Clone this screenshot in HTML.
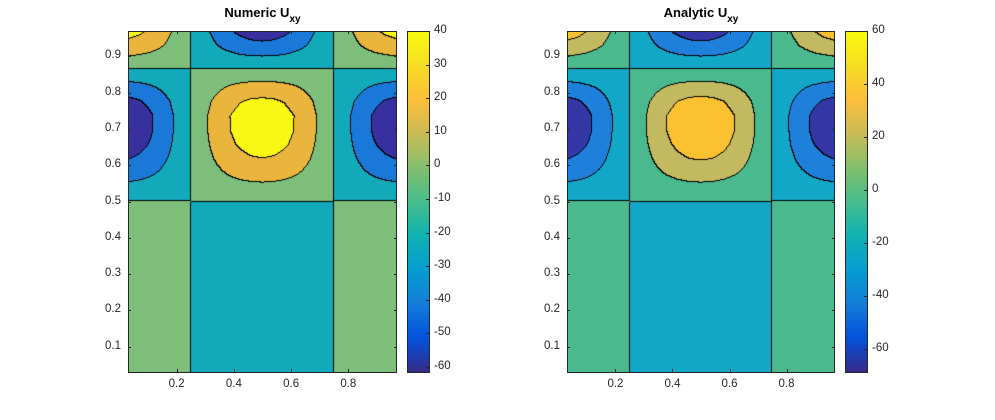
<!DOCTYPE html>
<html><head><meta charset="utf-8">
<style>
body{margin:0;background:#fff;width:995px;height:420px;overflow:hidden;font-family:"Liberation Sans",sans-serif;}
#root{position:relative;width:995px;height:420px;}
canvas{position:absolute;}
.t{position:absolute;font-size:11.5px;color:#262626;white-space:nowrap;}
.title{position:absolute;font-size:13px;font-weight:bold;color:#000;white-space:nowrap;transform:translateX(-50%);}
.title sub{font-size:10px;vertical-align:-5px;}
.box{position:absolute;border:1px solid #262626;box-sizing:border-box;pointer-events:none;}
.tk{position:absolute;background:#262626;}
</style></head><body>
<div id="root"></div>
<script>
// ---- data ----
const xTicks=[0.2,0.4,0.6,0.8];
const yTicks=[0.1,0.2,0.3,0.4,0.5,0.6,0.7,0.8,0.9];
const numericLevels=[-0.72,-0.36,0,0.36,0.75];
const numericColors=["#37309e","#1a78d8","#12a9bb","#7dbe7b","#eab53d","#f9f815"];
const analyticLevels=[-0.72,-0.36,0,0.36,0.72];
const analyticColors=["#3338a6","#1f80dc","#12a7c6","#4bb98e","#c3b961","#fbc130"];
const numericCbTicks=[40,30,20,10,0,-10,-20,-30,-40,-50,-60];
const analyticCbTicks=[60,40,20,0,-20,-40,-60];
const numericRange=[-61.5,40];
const analyticRange=[-68.7,60];
const lowerAmp=[0.15];
const domain=[0.03,0.97];

const parula=[[0,53,42,135],[0.1,4,82,220],[0.2,18,125,216],[0.3,6,156,208],[0.4,16,178,178],[0.5,70,189,140],[0.6,130,191,110],[0.7,200,187,84],[0.8,252,190,60],[0.9,246,220,34],[1,249,251,14]];

const root=document.getElementById('root');
function phase(y){
  if(y<0.72)return (y-0.5)/0.22*Math.PI/2;
  return Math.PI/2+(y-0.72)/0.145*Math.PI/2;
}
function field(x,y){
  if(y>=0.5){return -Math.cos(2*Math.PI*x)*Math.sin(phase(y));}
  return lowerAmp[0]*Math.cos(2*Math.PI*x);
}
const N=25;
function gridVal(x,y){
  const fx=(x-domain[0])/(domain[1]-domain[0])*(N-1), fy=(y-domain[0])/(domain[1]-domain[0])*(N-1);
  const i=Math.min(N-2,Math.floor(fx)), j=Math.min(N-2,Math.floor(fy));
  const tx=fx-i, ty=fy-j;
  const g=(a,b)=>field(domain[0]+a/(N-1)*(domain[1]-domain[0]),domain[0]+b/(N-1)*(domain[1]-domain[0]));
  return (g(i,j)*(1-tx)+g(i+1,j)*tx)*(1-ty)+(g(i,j+1)*(1-tx)+g(i+1,j+1)*tx)*ty;
}
function add(tag,cls,name,css,txt){
  const e=document.createElement(tag);
  if(cls)e.className=cls;
  
  
  Object.assign(e.style,css);
  if(txt!==undefined)e.innerHTML=txt;
  root.appendChild(e);return e;
}
function plot(L,W,title,levels,colors,cbTicks,range,prefix){
  const T=31,H=341;
  const cv=document.createElement('canvas');
  cv.width=W;cv.height=H;cv.style.left=L+'px';cv.style.top=T+'px';
  
  
  root.appendChild(cv);
  const ctx=cv.getContext('2d');const img=ctx.createImageData(W,H);
  const sx=p=>domain[0]+(p+0.5)/W*(domain[1]-domain[0]);
  const sy=p=>domain[1]-(p+0.5)/H*(domain[1]-domain[0]);
  const idx=new Int8Array(W*H);
  for(let py=0;py<H;py++)for(let px=0;px<W;px++){
    const v=gridVal(sx(px),sy(py));let k=0;while(k<levels.length&&v>=levels[k]-1e-9)k++;idx[py*W+px]=k;}
  const rgb=colors.map(c=>[parseInt(c.slice(1,3),16),parseInt(c.slice(3,5),16),parseInt(c.slice(5,7),16)]);
  for(let py=0;py<H;py++)for(let px=0;px<W;px++){
    const k=idx[py*W+px];let c=rgb[k];
    if((px<W-1&&idx[py*W+px+1]!==k)||(py<H-1&&idx[(py+1)*W+px]!==k))c=[0,0,0];
    const o=(py*W+px)*4;img.data[o]=c[0];img.data[o+1]=c[1];img.data[o+2]=c[2];img.data[o+3]=255;}
  ctx.putImageData(img,0,0);
  add('div','box',prefix+'-axes-box',{left:L+'px',top:T+'px',width:W+'px',height:(H+1)+'px'});
  const xp=v=>L+(v-domain[0])/(domain[1]-domain[0])*W;
  const yp=v=>T+(domain[1]-v)/(domain[1]-domain[0])*H;
  xTicks.forEach(v=>{
    add('div','tk',prefix+'-x-tick',{left:xp(v)+'px',top:(T+H-3)+'px',width:'1px',height:'3px'});
    add('div','tk',prefix+'-x-tick-top',{left:xp(v)+'px',top:T+'px',width:'1px',height:'3px'});
    add('div','t',prefix+'-x-tick-label',{left:(xp(v)-8)+'px',top:(T+H+6)+'px'},v.toFixed(1));});
  yTicks.forEach(v=>{
    add('div','tk',prefix+'-y-tick',{left:L+'px',top:yp(v)+'px',width:'3px',height:'1px'});
    add('div','tk',prefix+'-y-tick-right',{left:(L+W-3)+'px',top:yp(v)+'px',width:'3px',height:'1px'});
    add('div','t',prefix+'-y-tick-label',{left:(L-23)+'px',top:(yp(v)-7)+'px'},v.toFixed(1));});
  add('div','title',prefix+'-title',{left:(L+W/2)+'px',top:'5px'},title+' U<sub>xy</sub>');
  // colorbar
  const CL=L+W+10,CW=23;
  const stops=parula.map(s=>`rgb(${s[1]},${s[2]},${s[3]}) ${(100-s[0]*100).toFixed(1)}%`).reverse().join(',');
  add('div','',prefix+'-colorbar',{position:'absolute',left:CL+'px',top:T+'px',width:CW+'px',height:(H+1)+'px',background:`linear-gradient(to bottom,${stops})`,border:'1px solid #262626',boxSizing:'border-box'});
  const cy=v=>T+(range[1]-v)/(range[1]-range[0])*H;
  cbTicks.forEach(v=>{
    add('div','tk',prefix+'-colorbar-tick',{left:(CL+CW-4)+'px',top:cy(v)+'px',width:'3px',height:'1px'});
    add('div','t',prefix+'-colorbar-label',{left:(CL+CW+4)+'px',top:(cy(v)-7)+'px'},String(v));});
}
plot(128,269,'Numeric',numericLevels,numericColors,numericCbTicks,numericRange,'numeric');
plot(567,268,'Analytic',analyticLevels,analyticColors,analyticCbTicks,analyticRange,'analytic');
</script>
</body></html>
